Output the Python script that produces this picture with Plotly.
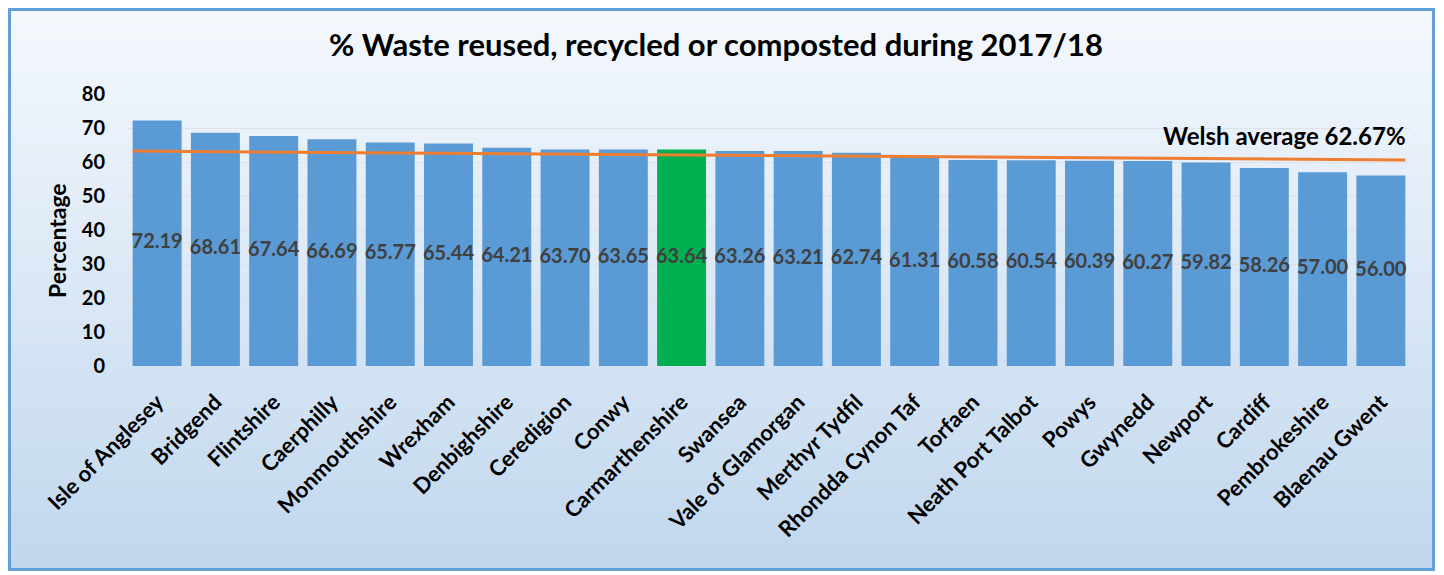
import plotly.graph_objects as go

categories = ["Isle of Anglesey", "Bridgend", "Flintshire", "Caerphilly", "Monmouthshire",
              "Wrexham", "Denbighshire", "Ceredigion", "Conwy", "Carmarthenshire", "Swansea",
              "Vale of Glamorgan", "Merthyr Tydfil", "Rhondda Cynon Taf", "Torfaen",
              "Neath Port Talbot", "Powys", "Gwynedd", "Newport", "Cardiff",
              "Pembrokeshire", "Blaenau Gwent"]
values = [72.19, 68.61, 67.64, 66.69, 65.77, 65.44, 64.21, 63.70, 63.65, 63.64, 63.26,
          63.21, 62.74, 61.31, 60.58, 60.54, 60.39, 60.27, 59.82, 58.26, 57.00, 56.00]
highlight = "Carmarthenshire"
avg_line_ends = [63.2, 60.6]   # drawn average line, as seen in picture (left end, right end)
avg_label = "Welsh average 62.67%"
y_ticks = [0, 10, 20, 30, 40, 50, 60, 70, 80]

BLUE = "#5b9bd5"
GREEN = "#00b050"
FONT = "Lato"
bargap = 0.16
n = len(categories)

# page offsets the figure by 8px (body margin); layout is expressed in screen pixels
OFF = 8
W, H = 1436, 567
L, R, T, B = 120, 34, 86, 209
PW, PH = W - L - R, H - T - B


def px(xs):
    return (xs - OFF - L) / PW


def py(ys):
    return (H - B - (ys - OFF)) / PH


colors = [GREEN if c == highlight else BLUE for c in categories]

fig = go.Figure()
fig.add_trace(go.Bar(
    x=categories, y=values, marker_color=colors, marker_line_width=0,
    hoverinfo="x+y", showlegend=False,
))
# centred value labels (bar middle), not shrunk to bar width
fig.add_trace(go.Scatter(
    x=categories, y=[v / 2 for v in values], mode="text",
    text=[f"{v:.2f}" for v in values], textposition="middle center",
    textfont=dict(family=FONT, size=20, color="#404040", weight="bold"),
    showlegend=False, hoverinfo="skip", cliponaxis=False,
))
half = (1 - bargap) / 2
fig.add_trace(go.Scatter(
    x=[-half, n - 1 + half], y=avg_line_ends, xaxis="x2", mode="lines",
    line=dict(color="#ed7d31", width=3), showlegend=False, hoverinfo="skip",
))

# background gradient bands inside the frame
shapes = []
nb = 70
top = (244, 248, 253)
bot = (193, 215, 238)
ys0, ys1 = 9, 570
for i in range(nb):
    t = i / (nb - 1)
    c = tuple(round(top[k] + (bot[k] - top[k]) * t) for k in range(3))
    a = ys0 + (ys1 - ys0) * i / nb
    b = ys0 + (ys1 - ys0) * (i + 1) / nb
    shapes.append(dict(type="rect", xref="paper", yref="paper", layer="below",
                       x0=px(9), x1=px(1434), y0=py(b + 0.5), y1=py(a),
                       fillcolor=f"rgb{c}", line_width=0))
# frame
shapes.append(dict(type="rect", xref="paper", yref="paper", layer="above",
                   x0=px(9.5), x1=px(1433.5), y0=py(569.5), y1=py(9.5),
                   line=dict(color="#62a0d8", width=3), fillcolor="rgba(0,0,0,0)"))

fig.update_layout(
    width=W, height=H,
    margin=dict(l=L, r=R, t=T, b=B),
    paper_bgcolor="white", plot_bgcolor="rgba(0,0,0,0)",
    bargap=bargap,
    font=dict(family=FONT, color="#000000"),
    title=dict(text="<b>% Waste reused, recycled or composted during 2017/18</b>",
               x=px(716), xref="paper", xanchor="center",
               y=1 - (45 - OFF) / H, yref="container", yanchor="middle",
               font=dict(family=FONT, size=31, color="#000000")),
    xaxis=dict(range=[-0.5, n - 0.5], autorange=False,
               tickangle=-45, tickfont=dict(family=FONT, size=22, color="#000000", weight="bold"),
               showgrid=False, showline=False, ticks="", ticklabelstandoff=18),
    xaxis2=dict(overlaying="x", range=[-0.5, n - 0.5], visible=False, anchor="y"),
    yaxis=dict(range=[0, 80], tickvals=y_ticks, showgrid=True, gridcolor="#dde2ea",
               gridwidth=1, zeroline=False, showline=False,
               tickfont=dict(family=FONT, size=20, color="#000000", weight="bold"),
               ticklabelstandoff=22),
    shapes=shapes,
    annotations=[
        dict(text=f"<b>{avg_label}</b>", xref="paper", yref="paper",
             x=px(1408), y=py(135), xanchor="right", yanchor="middle", showarrow=False,
             font=dict(family=FONT, size=24, color="#000000")),
        dict(text="<b>Percentage</b>", xref="paper", yref="paper", textangle=-90,
             x=px(57), y=py(241), xanchor="center", yanchor="middle", showarrow=False,
             font=dict(family=FONT, size=23, color="#000000")),
    ],
)

fig.write_html("out.html")
